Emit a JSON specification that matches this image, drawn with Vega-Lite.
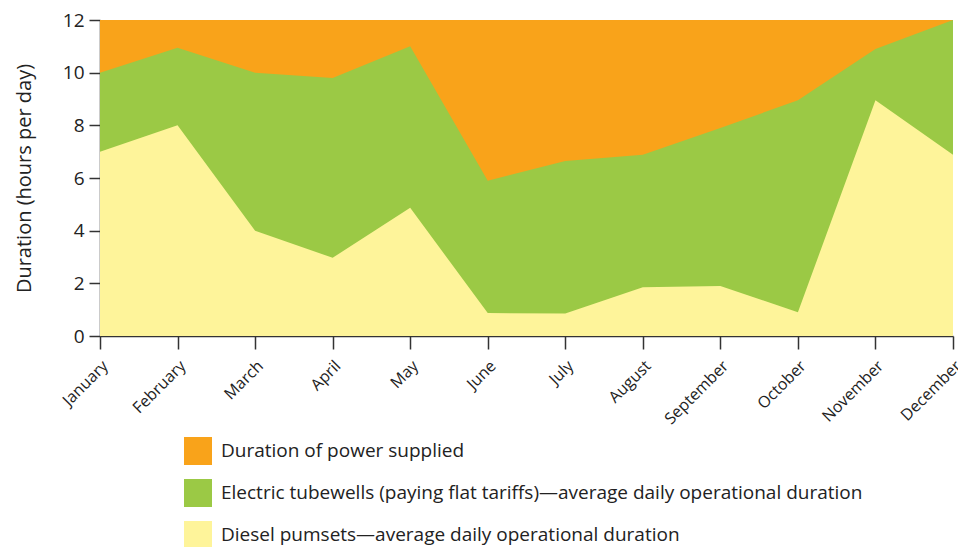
{
  "$schema": "https://vega.github.io/schema/vega-lite/v6.json",
  "autosize": "none",
  "width": 853,
  "height": 316,
  "padding": {"left": 100, "top": 20, "right": 5, "bottom": 211},
  "background": "white",
  "config": {
    "font": "Open Sans",
    "view": {"stroke": null},
    "axis": {
      "domainColor": "#333333",
      "tickColor": "#333333",
      "labelColor": "#222222",
      "titleColor": "#222222",
      "labelFont": "Open Sans",
      "titleFont": "Open Sans",
      "grid": false
    }
  },
  "data": {
    "values": [
      {"month": "January", "power": 12, "electric": 10, "diesel": 7},
      {"month": "February", "power": 12, "electric": 10.95, "diesel": 8},
      {"month": "March", "power": 12, "electric": 10, "diesel": 4},
      {"month": "April", "power": 12, "electric": 9.8, "diesel": 2.97},
      {"month": "May", "power": 12, "electric": 11, "diesel": 4.87},
      {"month": "June", "power": 12, "electric": 5.9, "diesel": 0.87},
      {"month": "July", "power": 12, "electric": 6.65, "diesel": 0.85},
      {"month": "August", "power": 12, "electric": 6.88, "diesel": 1.85},
      {"month": "September", "power": 12, "electric": 7.9, "diesel": 1.9},
      {"month": "October", "power": 12, "electric": 8.95, "diesel": 0.9},
      {"month": "November", "power": 12, "electric": 10.9, "diesel": 8.95},
      {"month": "December", "power": 12, "electric": 12, "diesel": 6.88}
    ]
  },
  "encoding": {
    "x": {
      "field": "month",
      "type": "ordinal",
      "sort": null,
      "scale": {"type": "point", "padding": 0},
      "axis": {
        "title": null,
        "labelAngle": -45,
        "labelAlign": "right",
        "labelBaseline": "middle",
        "labelFontSize": 16,
        "tickSize": 13,
        "labelPadding": 14,
        "labelOffset": 5,
        "domainWidth": 1.5,
        "tickWidth": 1.5
      }
    }
  },
  "layer": [
    {
      "mark": {"type": "area", "line": false},
      "encoding": {
        "y": {
          "field": "power",
          "type": "quantitative",
          "scale": {"domain": [0, 12], "nice": false},
          "axis": {
            "title": "Duration (hours per day)",
            "values": [0, 2, 4, 6, 8, 10, 12],
            "labelFontSize": 19,
            "titleFontSize": 20,
            "titleFontWeight": "normal",
            "tickSize": 11,
            "labelPadding": 5,
            "titlePadding": 28,
            "domainWidth": 1.5,
            "tickWidth": 1.5
          }
        },
        "color": {"datum": "Duration of power supplied"}
      }
    },
    {
      "mark": {"type": "area"},
      "encoding": {
        "y": {"field": "electric", "type": "quantitative"},
        "color": {"datum": "Electric tubewells (paying flat tariffs)—average daily operational duration"}
      }
    },
    {
      "mark": {"type": "area"},
      "encoding": {
        "y": {"field": "diesel", "type": "quantitative"},
        "color": {
          "datum": "Diesel pumsets—average daily operational duration",
          "scale": {
            "domain": [
              "Duration of power supplied",
              "Electric tubewells (paying flat tariffs)—average daily operational duration",
              "Diesel pumsets—average daily operational duration"
            ],
            "range": ["#F9A31A", "#9BC945", "#FEF49A"]
          },
          "legend": {
            "title": null,
            "orient": "none",
            "legendX": 84,
            "legendY": 417,
            "symbolType": "square",
            "symbolSize": 784,
            "symbolStrokeWidth": 0,
            "labelFontSize": 19,
            "labelColor": "#222222",
            "labelLimit": 800,
            "rowPadding": 14,
            "labelOffset": 9,
            "padding": 0
          }
        }
      }
    }
  ]
}
